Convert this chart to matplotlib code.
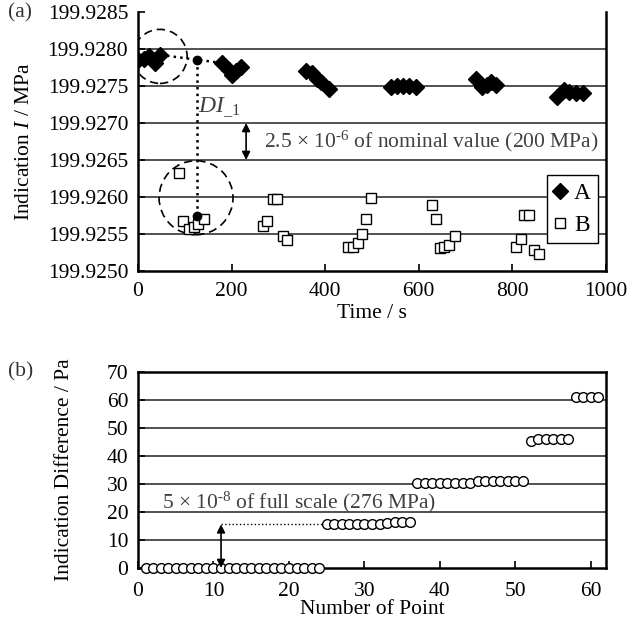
import numpy as np
import matplotlib
matplotlib.use("Agg")
import matplotlib.pyplot as plt
from matplotlib.patches import Ellipse
from matplotlib.ticker import FixedLocator, FuncFormatter

plt.rcParams['font.family'] = ['Liberation Serif', 'DejaVu Serif']
plt.rcParams['mathtext.fontset'] = 'custom'
plt.rcParams['mathtext.rm'] = 'Liberation Serif'
plt.rcParams['mathtext.it'] = 'Liberation Serif:italic'
plt.rcParams['font.size'] = 15.5

# ---------------- data (a) ----------------
a_time = [0, 12, 24, 36, 48,
          180, 195, 200, 210, 220,
          360, 372, 382, 392, 408,
          541, 554, 567, 580, 593,
          722, 735, 745, 755, 765,
          895, 910, 920, 935, 950]
a_value = [199.92785, 199.92787, 199.92790, 199.92781, 199.92792,
           199.92781, 199.92772, 199.92765, 199.92770, 199.92776,
           199.92770, 199.92767, 199.92760, 199.92755, 199.92746,
           199.92749, 199.92750, 199.92750, 199.92750, 199.92749,
           199.92760, 199.92748, 199.92752, 199.92755, 199.92752,
           199.92735, 199.92745, 199.92742, 199.92740, 199.92740]
b_time = [88, 97, 110, 120, 128, 140,
          267, 276, 289, 298, 309, 318,
          449, 459, 470, 478, 488, 498,
          628, 637, 645, 654, 664, 677,
          808, 818, 825, 835, 846, 857]
b_value = [199.92632, 199.92568, 199.92557, 199.92560, 199.92563, 199.92570,
           199.92561, 199.92568, 199.92597, 199.92597, 199.92547, 199.92542,
           199.92533, 199.92533, 199.92538, 199.92550, 199.92570, 199.92599,
           199.92589, 199.92570, 199.92531, 199.92532, 199.92535, 199.92547,
           199.92532, 199.92543, 199.92576, 199.92576, 199.92528, 199.92523]
di_time = 125  # time at which the indication difference DI_1 is taken

# ---------------- data (b) ----------------
point_no = list(range(1, 62))
diff_pa = ([0.0] * 24 +
           [15.6] * 8 + [15.9] + [16.5] * 3 +
           [30.3] * 8 + [31.2] * 7 +
           [45.3] + [46.2] * 5 +
           [61.2] * 4)

a_yticks = [199.9250, 199.9255, 199.9260, 199.9265, 199.9270, 199.9275, 199.9280, 199.9285]
a_xticks = [0, 200, 400, 600, 800, 1000]
b_yticks = [0, 10, 20, 30, 40, 50, 60, 70]
b_xticks = [0, 10, 20, 30, 40, 50, 60]

W, H = 639, 629
fig = plt.figure(figsize=(W / 100, H / 100), dpi=100)
ax1 = fig.add_axes([138 / W, 1 - 271 / H, (606 - 138) / W, (271 - 12) / H])
ax2 = fig.add_axes([138 / W, 1 - 568 / H, (606 - 138) / W, (568 - 372) / H])

grid_kw = dict(color='#222222', lw=1.1, zorder=0)
annot_col = '#404040'
HY = '\u2010'  # short hyphen for exponents

# ---------- panel (a) ----------
ax1.set_xlim(0, 1000)
ax1.set_ylim(199.9250, 199.9285)
for yv in a_yticks[1:-1]:
    ax1.axhline(yv, **grid_kw)

ax1.plot(a_time, a_value, ls='none', marker='D', ms=8.5, mfc='black', mec='black',
         label='A', zorder=3)
ax1.plot(b_time, b_value, ls='none', marker='s', ms=6.5, mfc='white', mec='black',
         mew=1.0, label='B', zorder=3)

# interpolation of A at the DI time, and mean of first B group
a_interp = float(np.interp(di_time, [a_time[4], a_time[5]], [a_value[4], a_value[5]]))
b_mean = float(np.mean(b_value[:6]))
ax1.plot([a_time[4], di_time, a_time[5]], [a_value[4], a_interp, a_value[5]],
         ls=':', color='black', lw=1.8, zorder=2)
ax1.plot([di_time, di_time], [a_interp, b_mean], ls=':', color='black', lw=1.8, zorder=2)
ax1.plot([di_time, di_time], [a_interp, b_mean], ls='none', marker='o', ms=6,
         color='black', zorder=4)

# dashed circles
ax1.add_patch(Ellipse((47, 199.92790), 116, 0.00073, fill=False, ls=(0, (5, 3)),
                      lw=1.2, color='black', zorder=2))
ax1.add_patch(Ellipse((124, 199.92599), 158, 0.0010, fill=False, ls=(0, (5, 3)),
                      lw=1.2, color='black', zorder=2))

ax1.annotate('', xy=(231, 199.9270), xytext=(231, 199.9265),
             arrowprops=dict(arrowstyle='<|-|>', color='black', lw=1.2,
                             mutation_scale=12, shrinkA=0, shrinkB=0))
ax1.text(270, 199.92675, r'2.5 $\times$ 10$^{\mathrm{' + HY + r'6}}$ of nominal value (200 MPa)',
         color=annot_col, va='center', ha='left', fontsize=15.5)
ax1.text(128, 199.92722, r'$\mathit{DI}_{\_1}$', color=annot_col, va='center',
         ha='left', fontsize=17)

leg = ax1.legend(loc='lower right', bbox_to_anchor=(0.983, 0.108), borderaxespad=0,
                 fancybox=False, framealpha=1, edgecolor='black', handlelength=0.5,
                 handletextpad=0.35, borderpad=0.3, labelspacing=0.45, fontsize=17)
leg.get_frame().set_linewidth(1.0)

ax1.yaxis.set_major_locator(FixedLocator(a_yticks))
ax1.yaxis.set_major_formatter(FuncFormatter(lambda v, p: f'{v:.4f}'))
ax1.xaxis.set_major_locator(FixedLocator(a_xticks))
ax1.spines['top'].set_visible(False)
for s in ['left', 'right', 'bottom']:
    ax1.spines[s].set_linewidth(1.8)
ax1.tick_params(direction='in', length=5, width=1.2, pad=7, labelsize=15.5)
ax1.tick_params(axis='x', pad=8)

ax1.set_xlabel('Time / s', va='center')
ax1.xaxis.set_label_coords(0.5, -0.165)
ax1.set_ylabel(r'Indication $I$ / MPa', va='center')
ax1.yaxis.set_label_coords(-0.242, 0.5)

# ---------- panel (b) ----------
ax2.set_xlim(0, 62)
ax2.set_ylim(0, 70)
for yv in b_yticks[1:-1]:
    ax2.axhline(yv, **grid_kw)
ax2.plot(point_no, diff_pa, ls='none', marker='o', ms=7, mfc='white', mec='black',
         mew=1.0, zorder=3, clip_on=False)

ax2.plot([11, 25], [diff_pa[24], diff_pa[24]], ls=':', color='black', lw=1.0, zorder=2)
ax2.annotate('', xy=(11, 0), xytext=(11, diff_pa[24]),
             arrowprops=dict(arrowstyle='<|-|>', color='black', lw=1.2,
                             mutation_scale=12, shrinkA=0, shrinkB=0))
ax2.text(3.2, 23.4, r'5 $\times$ 10$^{\mathrm{' + HY + r'8}}$ of full scale (276 MPa)',
         color=annot_col, va='center', ha='left', fontsize=15.5)

ax2.yaxis.set_major_locator(FixedLocator(b_yticks))
ax2.xaxis.set_major_locator(FixedLocator(b_xticks))
for s in ['left', 'right', 'bottom', 'top']:
    ax2.spines[s].set_linewidth(1.8)
ax2.tick_params(direction='in', length=5, width=1.2, pad=7, labelsize=15.5)
ax2.tick_params(axis='x', pad=10)
ax2.set_xlabel('Number of Point', va='center')
ax2.xaxis.set_label_coords(0.5, -0.212)
ax2.set_ylabel('Indication Difference / Pa', va='center')
ax2.yaxis.set_label_coords(-0.156, 0.5)

fig.text(8 / W, 1 - 13 / H, '(a)', ha='left', va='center', fontsize=15.5, color='#333333')
fig.text(8 / W, 1 - 372 / H, '(b)', ha='left', va='center', fontsize=15.5, color='#333333')

fig.savefig('out.png', dpi=100)
